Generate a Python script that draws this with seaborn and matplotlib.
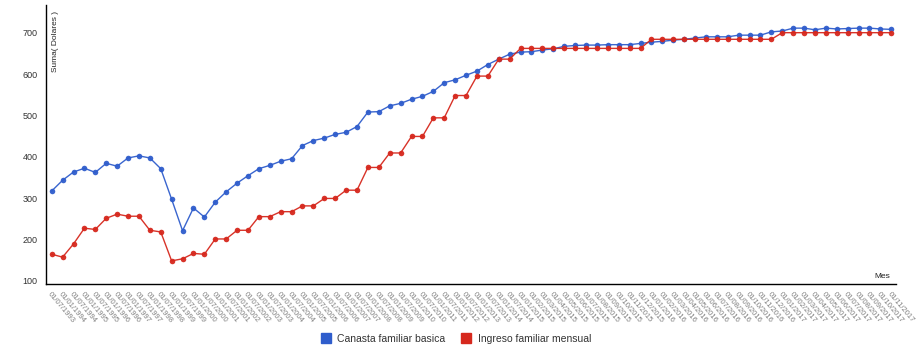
import pandas as pd
import matplotlib
matplotlib.use("Agg")
import matplotlib.pyplot as plt
import seaborn as sns
from matplotlib.lines import Line2D

# Meses (etiquetas del eje x)
meses = [
    "01/07/1993", "01/01/1994", "01/07/1994", "01/01/1995", "01/07/1995",
    "01/01/1996", "01/07/1996", "01/01/1997", "01/07/1997", "01/01/1998",
    "01/07/1998", "01/01/1999", "01/07/1999", "01/01/2000", "01/07/2000",
    "01/01/2001", "01/07/2001", "01/01/2002", "01/07/2002", "01/01/2003",
    "01/07/2003", "01/01/2004", "01/07/2004", "01/01/2005", "01/07/2005",
    "01/01/2006", "01/07/2006", "01/01/2007", "01/07/2007", "01/01/2008",
    "01/07/2008", "01/01/2009", "01/07/2009", "01/01/2010", "01/07/2010",
    "01/01/2011", "01/07/2011", "01/01/2012", "01/07/2012", "01/01/2013",
    "01/07/2013", "01/01/2014", "01/07/2014",
    "01/01/2015", "01/02/2015", "01/03/2015", "01/04/2015", "01/05/2015",
    "01/06/2015", "01/07/2015", "01/08/2015", "01/09/2015", "01/10/2015",
    "01/11/2015", "01/12/2015",
    "01/01/2016", "01/02/2016", "01/03/2016", "01/04/2016", "01/05/2016",
    "01/06/2016", "01/07/2016", "01/08/2016", "01/09/2016", "01/10/2016",
    "01/11/2016", "01/12/2016",
    "01/01/2017", "01/02/2017", "01/03/2017", "01/04/2017", "01/05/2017",
    "01/06/2017", "01/07/2017", "01/08/2017", "01/09/2017", "01/10/2017",
    "01/11/2017",
]

canasta = [
    317, 343, 363, 372, 362, 384, 377, 397, 402, 397,
    371, 297, 221, 276, 254, 290, 315, 336, 354, 371,
    379, 389, 395, 427, 439, 445, 454, 459, 473, 508,
    509, 523, 529, 539, 546, 558, 579, 586, 597, 607,
    623, 636, 648, 653, 654, 658, 661, 667, 669, 670,
    670, 671, 671, 671, 674, 677, 679, 682, 684, 687,
    690, 690, 690, 694, 694, 694, 702, 704, 711, 711,
    707, 711, 709, 710, 711, 711, 709, 708,
]

ingreso = [
    164, 157, 189, 227, 224, 251, 261, 256, 256, 222,
    218, 148, 153, 166, 164, 201, 201, 222, 222, 255,
    255, 267, 267, 281, 281, 299, 299, 319, 319, 374,
    374, 409, 409, 449, 449, 494, 494, 548, 548, 595,
    595, 636, 636,
    662, 662, 662, 662, 662, 662, 662, 662, 662, 662, 662, 662,
    684, 684, 684, 684, 684, 684, 684, 684, 684, 684, 684, 684,
    700, 700, 700, 700, 700, 700, 700, 700, 700, 700, 700,
]

series = ["Canasta familiar basica", "Ingreso familiar mensual"]
colores = {"Canasta familiar basica": "#2f5dcc", "Ingreso familiar mensual": "#d6281d"}

df = pd.DataFrame({
    "pos": list(range(len(meses))) * 2,
    "Mes": meses * 2,
    "Suma": canasta + ingreso,
    "serie": [series[0]] * len(canasta) + [series[1]] * len(ingreso),
})

sns.set_style("white")
plt.rcParams["font.family"] = ["Liberation Sans", "DejaVu Sans"]

fig = plt.figure(figsize=(9.16, 3.56), dpi=100)
ax = fig.add_axes([0.0499, 0.2022, 0.9279, 0.7838])

sns.lineplot(data=df, x="pos", y="Suma", hue="serie", hue_order=series,
             palette=colores, marker="o", markersize=4, markeredgewidth=0,
             linewidth=1.0, alpha=0.95, legend=False, ax=ax)

ax.set_xlim(-0.55, len(meses) - 0.6)
ax.set_ylim(92, 767)
ax.set_xticks(range(len(meses)))
ax.set_xticklabels(meses, rotation=-50, ha="left", va="top",
                   rotation_mode="anchor", fontsize=5.5, color="#808080")
ax.set_yticks([100, 200, 300, 400, 500, 600, 700])
ax.tick_params(axis="y", labelsize=6.5, labelcolor="#333333", length=4,
               width=1, color="black", pad=2)
ax.tick_params(axis="x", length=3, width=0.8, color="black", pad=2)
ax.set_xlabel("")
ax.set_ylabel("")

for s in ["top", "right"]:
    ax.spines[s].set_visible(False)
for s in ["left", "bottom"]:
    ax.spines[s].set_color("black")
    ax.spines[s].set_linewidth(1.0)

ax.text(0.011, 0.87, "Suma( Dolares )", transform=ax.transAxes, rotation=90,
        ha="center", va="center", fontsize=6, color="#222222")
ax.text(0.994, 0.027, "Mes", transform=ax.transAxes, ha="right", va="center",
        fontsize=6, color="#222222")

handles = [Line2D([], [], marker="s", linestyle="", color=colores[s],
                  markersize=7) for s in series]
fig.legend(handles, series, loc="center", bbox_to_anchor=(0.495, 0.048),
           ncol=2, frameon=False, fontsize=7.5, handletextpad=0.1,
           columnspacing=1.0, labelcolor="#333333")

fig.savefig("out.png", dpi=100)
